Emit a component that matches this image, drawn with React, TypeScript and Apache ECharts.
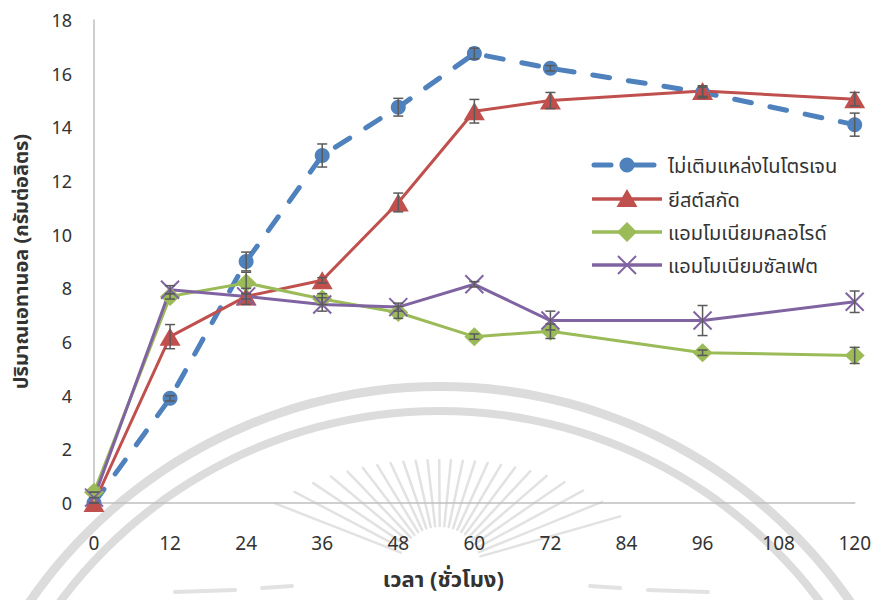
import React, { useEffect, useRef } from "react";
import * as echarts from "echarts";

// Sampling times (hours)
const hours = [0, 12, 24, 36, 48, 60, 72, 96, 120];

// Series names
const seriesNames = [
  "ไม่เติมแหล่งไนโตรเจน",
  "ยีสต์สกัด",
  "แอมโมเนียมคลอไรด์",
  "แอมโมเนียมซัลเฟต",
];

// Ethanol concentration (g/L) for each nitrogen source
const noNitrogen = [0, 3.9, 9.0, 12.95, 14.75, 16.75, 16.2, 15.3, 14.1];
const yeastExtract = [0, 6.2, 7.7, 8.3, 11.2, 14.6, 15.0, 15.35, 15.05];
const ammoniumChloride = [0.4, 7.7, 8.2, 7.6, 7.1, 6.2, 6.4, 5.6, 5.5];
const ammoniumSulfate = [0.2, 7.95, 7.7, 7.4, 7.3, 8.15, 6.8, 6.8, 7.5];

// Standard deviations
const noNitrogenErr = [0, 0.1, 0.35, 0.43, 0.33, 0.2, 0.1, 0.2, 0.43];
const yeastExtractErr = [0, 0.45, 0.3, 0.1, 0.35, 0.44, 0.3, 0.2, 0.25];
const ammoniumChlorideErr = [0, 0.1, 0.4, 0.2, 0.22, 0.1, 0.27, 0.1, 0.3];
const ammoniumSulfateErr = [0, 0.15, 0.1, 0.25, 0.15, 0.1, 0.35, 0.56, 0.4];

const colors = ["#4F81BD", "#C0504D", "#9BBB59", "#8064A2"];

const FONT = "'Noto Sans', 'Noto Sans Thai', 'DejaVu Sans', sans-serif";
const TEXT_COLOR = "#333333";

const pairs = (ys: number[]) => hours.map((h, i) => [h, ys[i]]);

const errorSeries = (ys: number[], err: number[]) => ({
  type: "custom",
  silent: true,
  z: 10,
  data: hours.map((h, i) => [h, ys[i] - err[i], ys[i] + err[i]]),
  renderItem: (_params: any, api: any) => {
    const x = api.value(0);
    const lo = api.coord([x, api.value(1)]);
    const hi = api.coord([x, api.value(2)]);
    const w = 5;
    const style = { stroke: "#5a5a5a", lineWidth: 1.5 };
    return {
      type: "group",
      children: [
        { type: "line", shape: { x1: lo[0], y1: lo[1], x2: hi[0], y2: hi[1] }, style },
        { type: "line", shape: { x1: lo[0] - w, y1: lo[1], x2: lo[0] + w, y2: lo[1] }, style },
        { type: "line", shape: { x1: hi[0] - w, y1: hi[1], x2: hi[0] + w, y2: hi[1] }, style },
      ],
    };
  },
});

// Faint seal in the background
const sealGraphics = () => {
  const items: any[] = [];
  const ring = "#dcdcdc";
  const ray = "#e2e2e2";
  const cx = 440;
  const cy = 885;
  items.push({ type: "ring", silent: true, z: -10, shape: { cx, cy, r: 503, r0: 494 }, style: { fill: ring } });
  items.push({ type: "ring", silent: true, z: -10, shape: { cx, cy, r: 478, r0: 470 }, style: { fill: ring } });
  const ox = 440;
  const oy = 568;
  const rx = 205;
  const ry = 108;
  for (let a = 16; a <= 164; a += 6.2) {
    const rad = (a * Math.PI) / 180;
    const c = Math.cos(rad);
    const s = Math.sin(rad);
    const outer = 1 / Math.sqrt((c * c) / (rx * rx) + (s * s) / (ry * ry));
    const inner = 42;
    items.push({
      type: "line",
      silent: true,
      z: -10,
      shape: { x1: ox + c * inner, y1: oy - s * inner, x2: ox + c * outer, y2: oy - s * outer },
      style: { stroke: ray, lineWidth: 2.5, lineCap: "round" },
    });
  }
  // side strokes of the emblem
  const strokes = [
    [175, 592, 235, 590],
    [262, 588, 292, 586],
    [590, 586, 620, 588],
    [648, 590, 708, 592],
  ];
  strokes.forEach(([x1, y1, x2, y2]) =>
    items.push({
      type: "line",
      silent: true,
      z: -10,
      shape: { x1, y1, x2, y2 },
      style: { stroke: ray, lineWidth: 4, lineCap: "round" },
    })
  );
  return items;
};

// Legend drawn as graphic elements so the icons carry the same line weights as the series
const legendGraphics = () => {
  const x0 = 592;
  const x1 = 662;
  const mx = 627;
  const rows = [165, 199, 232, 265];
  const items: any[] = [];
  // no nitrogen: dashed blue with circle
  items.push({ type: "line", z: 20, shape: { x1: x0 + 2, y1: rows[0], x2: 611, y2: rows[0] }, style: { stroke: colors[0], lineWidth: 5, lineCap: "round" } });
  items.push({ type: "line", z: 20, shape: { x1: mx, y1: rows[0], x2: 654, y2: rows[0] }, style: { stroke: colors[0], lineWidth: 5, lineCap: "round" } });
  items.push({ type: "circle", z: 21, shape: { cx: mx, cy: rows[0], r: 7.5 }, style: { fill: colors[0] } });
  // yeast extract: red with triangle
  items.push({ type: "line", z: 20, shape: { x1: x0, y1: rows[1], x2: x1, y2: rows[1] }, style: { stroke: colors[1], lineWidth: 3.5 } });
  items.push({ type: "polygon", z: 21, shape: { points: [[mx, rows[1] - 10], [mx + 10.5, rows[1] + 8], [mx - 10.5, rows[1] + 8]] }, style: { fill: colors[1] } });
  // ammonium chloride: green with diamond
  items.push({ type: "line", z: 20, shape: { x1: x0, y1: rows[2], x2: x1, y2: rows[2] }, style: { stroke: colors[2], lineWidth: 3.5 } });
  items.push({ type: "polygon", z: 21, shape: { points: [[mx, rows[2] - 10], [mx + 10, rows[2]], [mx, rows[2] + 10], [mx - 10, rows[2]]] }, style: { fill: colors[2] } });
  // ammonium sulfate: purple with cross
  items.push({ type: "line", z: 20, shape: { x1: x0, y1: rows[3], x2: x1, y2: rows[3] }, style: { stroke: colors[3], lineWidth: 3.5 } });
  items.push({ type: "line", z: 21, shape: { x1: mx - 9, y1: rows[3] - 9, x2: mx + 9, y2: rows[3] + 9 }, style: { stroke: colors[3], lineWidth: 2 } });
  items.push({ type: "line", z: 21, shape: { x1: mx - 9, y1: rows[3] + 9, x2: mx + 9, y2: rows[3] - 9 }, style: { stroke: colors[3], lineWidth: 2 } });
  seriesNames.forEach((name, i) =>
    items.push({
      type: "text",
      z: 21,
      x: 668,
      y: rows[i],
      style: {
        text: name,
        fill: TEXT_COLOR,
        font: `20px ${FONT}`,
        verticalAlign: "middle",
        align: "left",
      },
    })
  );
  return items;
};

export default function App() {
  const ref = useRef<HTMLDivElement>(null);

  useEffect(() => {
    if (!ref.current) return;
    const chart = echarts.init(ref.current, undefined, { renderer: "svg" });
    const lineBase = { type: "line", showSymbol: true, z: 3 };
    chart.setOption({
      animation: false,
      backgroundColor: "#ffffff",
      graphic: [...sealGraphics(), ...legendGraphics()],
      grid: { left: 94, right: 19, top: 20, bottom: 97, containLabel: false },
      xAxis: {
        type: "value",
        min: 0,
        max: 120,
        interval: 12,
        name: "เวลา (ชั่วโมง)",
        nameLocation: "middle",
        nameGap: 64,
        nameTextStyle: {
          fontFamily: FONT,
          fontSize: 22,
          fontWeight: "bold",
          color: TEXT_COLOR,
          padding: [0, 62, 0, 0],
        },
        axisLine: { show: true, lineStyle: { color: "#BFBFBF", width: 1.5 } },
        axisTick: { show: false },
        splitLine: { show: false },
        axisLabel: { margin: 30, fontFamily: FONT, fontSize: 19, color: TEXT_COLOR },
      },
      yAxis: {
        type: "value",
        min: 0,
        max: 18,
        interval: 2,
        name: "ปริมาณเอทานอล (กรัมต่อลิตร)",
        nameLocation: "middle",
        nameGap: 64,
        nameTextStyle: { fontFamily: FONT, fontSize: 20, fontWeight: "bold", color: TEXT_COLOR },
        axisLine: { show: true, lineStyle: { color: "#BFBFBF", width: 1.5 } },
        axisTick: { show: false },
        splitLine: { show: false },
        axisLabel: { margin: 22, fontFamily: FONT, fontSize: 18, color: TEXT_COLOR },
      },
      series: [
        {
          ...lineBase,
          name: seriesNames[0],
          data: pairs(noNitrogen),
          symbol: "circle",
          symbolSize: 15,
          itemStyle: { color: colors[0] },
          lineStyle: { color: colors[0], width: 5, type: [17, 19], cap: "round" },
        },
        {
          ...lineBase,
          name: seriesNames[1],
          data: pairs(yeastExtract),
          symbol: "triangle",
          symbolSize: [21, 18],
          itemStyle: { color: colors[1] },
          lineStyle: { color: colors[1], width: 3 },
        },
        {
          ...lineBase,
          name: seriesNames[2],
          data: pairs(ammoniumChloride),
          symbol: "diamond",
          symbolSize: [20, 19],
          itemStyle: { color: colors[2] },
          lineStyle: { color: colors[2], width: 3 },
        },
        {
          ...lineBase,
          name: seriesNames[3],
          data: pairs(ammoniumSulfate),
          symbol: "path://M0,0L10,10M10,0L0,10",
          symbolSize: 18,
          itemStyle: { color: "none", borderColor: colors[3], borderWidth: 2 },
          lineStyle: { color: colors[3], width: 3 },
        },
        errorSeries(noNitrogen, noNitrogenErr),
        errorSeries(yeastExtract, yeastExtractErr),
        errorSeries(ammoniumChloride, ammoniumChlorideErr),
        errorSeries(ammoniumSulfate, ammoniumSulfateErr),
      ],
    });
    return () => chart.dispose();
  }, []);

  return <div ref={ref} style={{ width: 874, height: 600, position: "absolute", left: 0, top: 0 }} />;
}
